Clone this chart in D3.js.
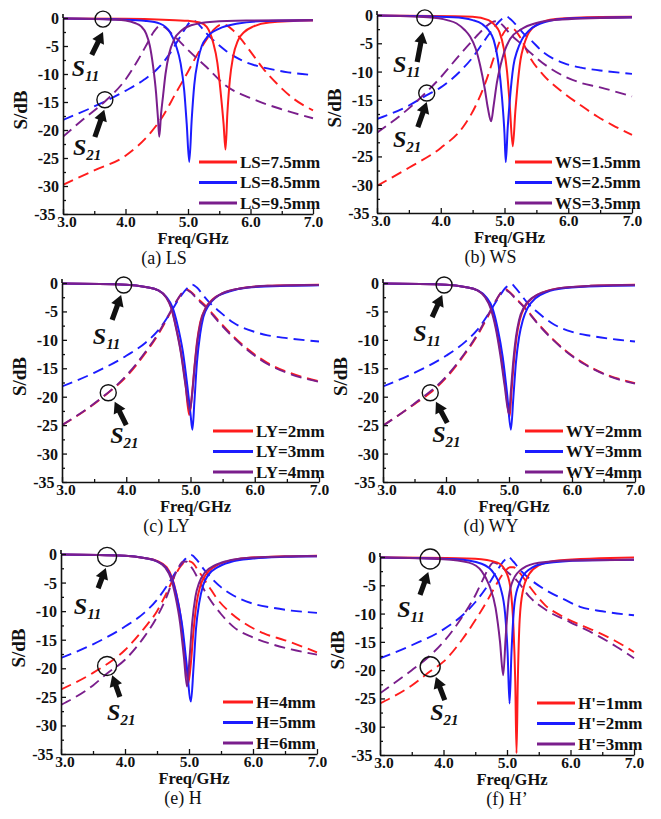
<!DOCTYPE html>
<html><head><meta charset="utf-8">
<script src="https://cdn.jsdelivr.net/npm/d3@7"></script>
<style>body{margin:0;background:#fff}svg{display:block}</style>
</head><body>
<svg id="chart" width="661" height="819"></svg>
<script>
// ---------- DATA ----------
const freqTicks = [3.0, 4.0, 5.0, 6.0, 7.0];
const freqMinorTicks = [3.5, 4.5, 5.5, 6.5];
const dbTicks = [0, -5, -10, -15, -20, -25, -30, -35];
const dbMinorTicks = [-2.5, -7.5, -12.5, -17.5, -22.5, -27.5, -32.5];
const captions = ["(a) LS", "(b) WS", "(c) LY", "(d) WY", "(e) H", "(f) H\u2019"];
const legendA = ["LS=7.5mm", "LS=8.5mm", "LS=9.5mm"];
const legendB = ["WS=1.5mm", "WS=2.5mm", "WS=3.5mm"];
const legendC = ["LY=2mm", "LY=3mm", "LY=4mm"];
const legendD = ["WY=2mm", "WY=3mm", "WY=4mm"];
const legendE = ["H=4mm", "H=5mm", "H=6mm"];
const legendF = ["H'=1mm", "H'=2mm", "H'=3mm"];

// S11 (solid) per panel: [red, blue, purple]; points are [GHz, dB]
const s11A = [
  [[3,-0.1],[4,-0.15],[4.6,-0.3],[5,-0.5],[5.19,-0.8],[5.3,-1.6],[5.4,-4.3],[5.47,-8],[5.52,-13],[5.57,-19],[5.6,-23.5],[5.63,-17],[5.67,-11],[5.72,-7],[5.8,-4],[5.9,-2.5],[6.05,-1.5],[6.3,-0.8],[7,-0.45]],
  [[3,-0.1],[4,-0.3],[4.3,-0.5],[4.55,-1],[4.71,-2.5],[4.81,-5],[4.88,-8],[4.94,-13],[4.98,-19],[5.02,-25.7],[5.06,-18],[5.1,-12],[5.16,-7.5],[5.22,-5],[5.3,-3.5],[5.5,-1.9],[5.8,-1],[6.2,-0.55],[7,-0.4]],
  [[3,-0.1],[3.8,-0.3],[4,-0.45],[4.15,-0.9],[4.25,-1.5],[4.33,-2.8],[4.39,-5],[4.44,-8.5],[4.49,-13.5],[4.52,-18],[4.54,-21.2],[4.57,-17],[4.6,-14],[4.64,-10],[4.7,-6.3],[4.78,-3.8],[4.9,-2.2],[5.05,-1.3],[5.4,-0.65],[6,-0.45],[7,-0.35]]
];
const s21A = [
  [[3,-29.8],[3.5,-27.2],[4,-24.6],[4.4,-20.5],[4.6,-17.5],[4.8,-13.5],[5,-9.6],[5.15,-6.5],[5.3,-3.8],[5.42,-2],[5.55,-1.1],[5.62,-1.3],[5.72,-2.2],[5.83,-3.5],[6,-6],[6.2,-9],[6.42,-11.7],[6.7,-14.5],[7,-16.5]],
  [[3,-18.2],[3.5,-15.8],[4,-13],[4.3,-11],[4.5,-9.2],[4.7,-6.5],[4.85,-3.8],[4.95,-2],[5.05,-0.6],[5.1,-0.5],[5.2,-1.5],[5.3,-2.8],[5.4,-3.9],[5.6,-5.8],[5.83,-7.4],[6,-8.2],[6.27,-9],[6.6,-9.7],[7,-10.2]],
  [[3,-21.2],[3.3,-18.3],[3.7,-14.6],[4,-11],[4.2,-7.5],[4.35,-4.5],[4.45,-2.5],[4.55,-1.4],[4.62,-1.6],[4.72,-2.6],[4.85,-4],[5,-5.7],[5.3,-8.8],[5.62,-12.2],[6,-14.3],[6.5,-16.3],[7,-17.9]]
];
const s11B = [
  [[3,-0.1],[4.5,-0.3],[4.75,-0.9],[4.85,-1.8],[4.92,-3],[4.99,-6],[5.04,-10],[5.08,-15.5],[5.13,-23.2],[5.17,-17],[5.2,-13],[5.25,-8],[5.3,-5.5],[5.36,-3.6],[5.5,-1.8],[5.8,-0.7],[6.5,-0.35],[7,-0.3]],
  [[3,-0.1],[4.2,-0.4],[4.5,-0.9],[4.65,-1.6],[4.75,-2.7],[4.83,-4.4],[4.91,-9],[4.96,-14.5],[5,-21],[5.02,-26],[5.05,-20],[5.08,-15.5],[5.14,-9],[5.2,-6.3],[5.27,-4.4],[5.4,-2.6],[5.65,-1.2],[6,-0.6],[7,-0.4]],
  [[3,-0.1],[3.8,-0.4],[4.1,-0.9],[4.25,-1.5],[4.38,-2.7],[4.46,-3.8],[4.55,-6],[4.62,-9],[4.69,-13],[4.74,-16.5],[4.79,-18.8],[4.83,-16],[4.88,-12],[4.94,-8.8],[5,-6.4],[5.09,-4.2],[5.25,-2.6],[5.5,-1.4],[5.9,-0.8],[7,-0.45]]
];
const s21B = [
  [[3,-30.2],[3.5,-27],[4,-23.5],[4.35,-19.8],[4.55,-16],[4.7,-12],[4.85,-7],[4.97,-3.5],[5.08,-2.2],[5.15,-2.5],[5.25,-4],[5.4,-7.5],[5.6,-10.5],[5.93,-13.8],[6.2,-16],[6.45,-17.9],[6.7,-19.5],[7,-21.2]],
  [[3,-18.4],[3.5,-16],[3.76,-14.3],[4,-12.8],[4.3,-10],[4.5,-7.5],[4.7,-4.3],[4.85,-2],[4.95,-0.8],[5.03,-0.3],[5.1,-0.8],[5.2,-2],[5.3,-3.3],[5.41,-4.4],[5.6,-6.5],[5.93,-8.5],[6.2,-9.3],[6.5,-9.8],[7,-10.4]],
  [[3,-20.8],[3.5,-16.5],[3.76,-13.8],[4,-11],[4.3,-7],[4.5,-4.5],[4.65,-2.7],[4.8,-1.3],[4.87,-1.1],[4.95,-1.6],[5.1,-3.5],[5.25,-5],[5.41,-6.7],[5.7,-9.3],[5.93,-10.8],[6.2,-12],[6.5,-12.8],[7,-14.4]]
];
const s11C = [
  [[3,-0.1],[4,-0.3],[4.3,-0.7],[4.5,-1.3],[4.62,-2.5],[4.7,-4.3],[4.78,-8],[4.85,-12],[4.92,-17.5],[4.98,-23.2],[5.02,-20],[5.06,-15],[5.1,-10.5],[5.15,-7],[5.23,-4.5],[5.35,-2.8],[5.5,-1.8],[5.75,-1],[6.2,-0.5],[7,-0.3]],
  [[3,-0.1],[4,-0.3],[4.3,-0.7],[4.5,-1.3],[4.62,-2.4],[4.72,-4.3],[4.8,-7.5],[4.88,-12],[4.95,-18],[5,-23],[5.03,-25.8],[5.06,-21],[5.1,-14],[5.15,-9],[5.2,-6],[5.28,-4],[5.4,-2.5],[5.6,-1.5],[5.9,-0.8],[6.5,-0.5],[7,-0.4]],
  [[3,-0.1],[4,-0.3],[4.3,-0.7],[4.5,-1.3],[4.62,-2.5],[4.7,-4.4],[4.78,-8.2],[4.85,-12.3],[4.92,-17.8],[4.99,-22.5],[5.03,-19],[5.07,-14],[5.11,-10],[5.16,-6.8],[5.24,-4.4],[5.36,-2.8],[5.5,-1.8],[5.75,-1],[6.2,-0.5],[7,-0.35]]
];
const s21C = [
  [[3,-25],[3.5,-21.3],[3.72,-19.3],[4,-16.5],[4.3,-12.3],[4.5,-9],[4.65,-6],[4.78,-3.3],[4.88,-1.6],[4.93,-1.1],[5,-1.5],[5.1,-2.6],[5.25,-4.2],[5.45,-6.8],[5.67,-9.4],[5.9,-11.7],[6.19,-14],[6.5,-15.6],[7,-17.3]],
  [[3,-18.2],[3.5,-15.8],[4,-12.8],[4.3,-10.5],[4.5,-8.3],[4.7,-5],[4.85,-2.3],[4.95,-0.9],[5.03,-0.3],[5.1,-0.8],[5.2,-2.2],[5.3,-3.5],[5.45,-5],[5.67,-7],[6,-8.6],[6.2,-9.2],[6.5,-9.7],[7,-10.3]],
  [[3,-25],[3.5,-21.2],[4,-16.3],[4.3,-12.1],[4.5,-8.8],[4.65,-5.8],[4.78,-3.2],[4.88,-1.6],[4.93,-1.2],[5,-1.6],[5.1,-2.8],[5.25,-4.4],[5.45,-7],[5.67,-9.6],[5.9,-11.9],[6.19,-14.2],[6.5,-15.8],[7,-17.4]]
];
const s11D = [
  [[3,-0.1],[4,-0.3],[4.3,-0.7],[4.5,-1.3],[4.63,-2.5],[4.72,-4.5],[4.8,-8],[4.87,-12.5],[4.94,-18],[5.01,-23.5],[5.04,-19],[5.08,-13.5],[5.12,-9.5],[5.17,-6.5],[5.25,-4.2],[5.38,-2.6],[5.55,-1.6],[5.8,-0.9],[6.3,-0.5],[7,-0.3]],
  [[3,-0.1],[4,-0.3],[4.3,-0.7],[4.5,-1.3],[4.64,-2.5],[4.74,-4.5],[4.82,-8],[4.9,-13],[4.97,-19.5],[5.03,-25.8],[5.07,-20],[5.11,-14],[5.16,-9.5],[5.22,-6.5],[5.3,-4.3],[5.42,-2.7],[5.6,-1.6],[5.9,-0.9],[6.4,-0.55],[7,-0.45]],
  [[3,-0.1],[4,-0.3],[4.3,-0.7],[4.5,-1.3],[4.62,-2.5],[4.71,-4.5],[4.79,-8],[4.86,-12.5],[4.93,-18],[5,-23],[5.03,-19],[5.07,-13.5],[5.11,-9.5],[5.16,-6.5],[5.24,-4.2],[5.37,-2.6],[5.55,-1.6],[5.8,-0.9],[6.3,-0.5],[7,-0.35]]
];
const s21D = [
  [[3,-25.1],[3.5,-21.3],[3.74,-19.4],[4,-16.7],[4.3,-12.5],[4.5,-9.2],[4.65,-6.2],[4.78,-3.4],[4.88,-1.6],[4.94,-1.1],[5,-1.5],[5.1,-2.6],[5.25,-4.3],[5.45,-7],[5.67,-9.6],[5.9,-11.9],[6.2,-14.2],[6.5,-15.9],[7,-17.6]],
  [[3,-18.2],[3.5,-15.8],[4,-12.8],[4.3,-10.4],[4.5,-8.2],[4.7,-5],[4.85,-2.3],[4.95,-0.8],[5.04,-0.2],[5.1,-0.8],[5.2,-2.2],[5.3,-3.6],[5.45,-5.1],[5.67,-7],[6,-8.6],[6.3,-9.3],[6.6,-9.8],[7,-10.3]],
  [[3,-25.1],[3.5,-21.2],[4,-16.5],[4.3,-12.3],[4.5,-9],[4.65,-6],[4.78,-3.3],[4.88,-1.6],[4.94,-1.2],[5,-1.6],[5.1,-2.7],[5.25,-4.4],[5.45,-7.1],[5.67,-9.7],[5.9,-12],[6.2,-14.3],[6.5,-16],[7,-17.7]]
];
const s11E = [
  [[3,-0.1],[4,-0.3],[4.3,-0.7],[4.5,-1.2],[4.65,-2.3],[4.73,-4],[4.8,-6.8],[4.87,-11],[4.93,-17],[4.99,-22.6],[5.03,-19],[5.07,-13.5],[5.12,-8.5],[5.18,-5.5],[5.27,-3.5],[5.4,-2.2],[5.6,-1.3],[5.9,-0.7],[6.5,-0.4],[7,-0.3]],
  [[3,-0.1],[4,-0.3],[4.3,-0.7],[4.5,-1.3],[4.64,-2.4],[4.74,-4.5],[4.82,-8],[4.9,-13],[4.96,-19],[5.03,-25.8],[5.07,-20],[5.11,-13],[5.16,-8.5],[5.22,-5.5],[5.3,-3.7],[5.45,-2.3],[5.65,-1.4],[6,-0.8],[6.5,-0.5],[7,-0.4]],
  [[3,-0.1],[4,-0.3],[4.3,-0.7],[4.5,-1.3],[4.63,-2.4],[4.72,-4.3],[4.79,-7.5],[4.86,-12],[4.92,-18],[4.97,-23.2],[5.01,-18],[5.05,-12],[5.1,-7.5],[5.16,-5],[5.25,-3.2],[5.4,-2],[5.6,-1.2],[5.9,-0.7],[6.5,-0.45],[7,-0.4]]
];
const s21E = [
  [[3,-23.7],[3.5,-20.8],[4,-16.8],[4.3,-13],[4.5,-10],[4.65,-6.8],[4.78,-3.8],[4.88,-2],[4.97,-1.2],[5.05,-1.5],[5.15,-3],[5.3,-5.5],[5.45,-8],[5.6,-9.8],[5.85,-12],[6.17,-13.9],[6.5,-15.1],[7,-17.2]],
  [[3,-18.2],[3.5,-15.8],[4,-12.7],[4.3,-10.3],[4.5,-8],[4.7,-4.8],[4.85,-2.2],[4.95,-0.8],[5.04,-0.2],[5.12,-1],[5.22,-2.5],[5.35,-4.2],[5.5,-5.8],[5.7,-7.3],[6,-8.7],[6.3,-9.4],[6.6,-9.9],[7,-10.3]],
  [[3,-26.4],[3.5,-23],[3.71,-21],[4,-18.5],[4.3,-14.5],[4.5,-11],[4.65,-7.5],[4.75,-4.5],[4.83,-2.5],[4.9,-1.4],[4.95,-1.3],[5.05,-2.5],[5.15,-4.5],[5.3,-7.5],[5.5,-10.5],[5.7,-12.8],[6,-14.6],[6.3,-15.8],[6.6,-16.7],[7,-17.6]]
];
const s11F = [
  [[3,-0.05],[4.5,-0.3],[4.85,-1],[5,-3],[5.06,-6],[5.1,-12],[5.13,-22],[5.15,-34.7],[5.17,-22],[5.2,-11],[5.25,-6],[5.35,-3],[5.5,-1.5],[5.8,-0.6],[7,-0.1]],
  [[3,-0.1],[4.2,-0.4],[4.6,-1.2],[4.8,-3],[4.9,-5.5],[4.97,-10],[5.01,-17],[5.04,-25.9],[5.07,-17],[5.12,-8],[5.2,-4.5],[5.35,-2.2],[5.6,-1.1],[6.2,-0.6],[7,-0.5]],
  [[3,-0.1],[4,-0.4],[4.4,-1],[4.6,-2.5],[4.72,-5],[4.82,-9],[4.89,-15],[4.94,-20.9],[4.98,-14],[5.03,-7],[5.1,-4],[5.25,-2],[5.5,-1],[6,-0.6],[7,-0.5]]
];
const s21F = [
  [[3,-25.9],[3.5,-22.7],[3.79,-20.2],[4,-18.5],[4.3,-14.5],[4.5,-11.2],[4.7,-7.5],[4.85,-4.5],[4.95,-2.8],[5.05,-1.8],[5.1,-1.8],[5.2,-2.8],[5.36,-5.3],[5.6,-8.5],[5.89,-10.6],[6.2,-12.2],[6.41,-13.2],[6.7,-14.8],[7,-16.8]],
  [[3,-17.9],[3.5,-15.6],[4,-12.8],[4.3,-10.3],[4.5,-8],[4.7,-5],[4.85,-2.3],[4.95,-0.7],[5.02,0],[5.1,-0.8],[5.2,-2.2],[5.35,-3.8],[5.62,-5.9],[5.9,-7.5],[6.15,-8.8],[6.5,-9.6],[7,-10.3]],
  [[3,-24.1],[3.5,-20],[3.75,-17.8],[4,-15],[4.3,-10.5],[4.5,-6.8],[4.62,-4],[4.72,-1.8],[4.78,-1],[4.85,-1.2],[5,-2.6],[5.15,-4.1],[5.36,-7.1],[5.62,-9.4],[5.99,-11.5],[6.41,-13.8],[6.73,-15.9],[7,-17.9]]
];

// ---------- LAYOUT ----------
const colors = ["#ff1c1c", "#1c1cff", "#7a1e8c"];
const panels = [
  {x0:63,x1:313,y0:18,y1:214, s11:s11A, s21:s21A, legend:legendA, cap:captions[0], capDx:-24, lg:{x:199,y:162,len:38},
   ann:{c11:[3.64,-0.2],r:8,a11:[[3.46,-6.6],[3.64,-2.5]],l11:[3.14,-10.4],c21:[3.67,-14.6],a21:[[3.51,-21.25],[3.66,-16.4]],l21:[3.16,-24.5]}},
  {x0:377,x1:632,y0:15,y1:213, s11:s11B, s21:s21B, legend:legendB, cap:captions[1], capDx:-14, lg:{x:515,y:162,len:37},
   ann:{c11:[3.75,-0.5],r:8,a11:[[3.63,-8.3],[3.72,-3.0]],l11:[3.25,-10.1],c21:[3.78,-13.8],a21:[[3.64,-19.8],[3.78,-15.4]],l21:[3.25,-23.3]}},
  {x0:62,x1:319,y0:283,y1:482, s11:s11C, s21:s21C, legend:legendC, cap:captions[2], capDx:-24, lg:{x:213,y:431,len:40},
   ann:{c11:[3.96,-0.35],r:8,a11:[[3.78,-6.5],[3.92,-2.1]],l11:[3.48,-10.7],c21:[3.72,-19.3],a21:[[4.0,-25],[3.82,-20.9]],l21:[3.75,-28.1]}},
  {x0:383,x1:635,y0:283,y1:482, s11:s11D, s21:s21D, legend:legendD, cap:captions[3], capDx:-18, lg:{x:525,y:431,len:38},
   ann:{c11:[3.97,-0.35],r:8,a11:[[3.78,-6.0],[3.94,-2.1]],l11:[3.48,-10.2],c21:[3.75,-19.3],a21:[[4.02,-24.6],[3.84,-20.9]],l21:[3.78,-28.0]}},
  {x0:61,x1:317,y0:554,y1:754, s11:s11E, s21:s21E, legend:legendE, cap:captions[4], capDx:-6, lg:{x:223,y:702,len:30},
   ann:{c11:[3.72,-0.5],r:9.5,a11:[[3.58,-6.0],[3.70,-2.45]],l11:[3.2,-10.5],c21:[3.72,-19.6],a21:[[3.92,-25.0],[3.8,-21.2]],l21:[3.72,-29.1]}},
  {x0:380,x1:634,y0:557,y1:755, s11:s11F, s21:s21F, legend:legendF, cap:captions[5], capDx:0, lg:{x:537,y:703,len:38},
   ann:{c11:[3.79,-0.35],r:10,a11:[[3.63,-6.7],[3.76,-2.65]],l11:[3.27,-10.6],c21:[3.79,-19.4],a21:[[4.02,-25.3],[3.88,-21.2]],l21:[3.79,-28.8]}}
];

const svg = d3.select("#chart");
const serif = "'Liberation Serif','Times New Roman',serif";

function arrowPath(tail, tip) {
  const dx = tip[0]-tail[0], dy = tip[1]-tail[1];
  const L = Math.hypot(dx, dy), ux = dx/L, uy = dy/L, px = -uy, py = ux;
  const hl = 11, hw = 6.5, sw = 2.6;
  const bx = tip[0]-ux*hl, by = tip[1]-uy*hl;
  const pts = [
    [tail[0]+px*sw, tail[1]+py*sw], [bx+px*sw, by+py*sw], [bx+px*hw, by+py*hw], tip,
    [bx-px*hw, by-py*hw], [bx-px*sw, by-py*sw], [tail[0]-px*sw, tail[1]-py*sw]
  ];
  return "M" + pts.map(p => p.join(",")).join("L") + "Z";
}

panels.forEach((p, i) => {
  const x = d3.scaleLinear().domain([3, 7]).range([p.x0, p.x1]);
  const y = d3.scaleLinear().domain([0, -35]).range([p.y0, p.y1]);
  const g = svg.append("g");
  const clipId = "clip" + i;
  svg.append("clipPath").attr("id", clipId).append("rect")
    .attr("x", p.x0).attr("y", p.y0 - 6).attr("width", p.x1 - p.x0 + 2).attr("height", p.y1 - p.y0 + 6);

  const line = d3.line().x(d => x(d[0])).y(d => y(d[1])).curve(d3.curveMonotoneX);
  const plot = g.append("g").attr("clip-path", `url(#${clipId})`);
  p.s21.forEach((s, k) => plot.append("path").attr("d", line(s)).attr("fill", "none")
    .attr("stroke", colors[k]).attr("stroke-width", 1.9).attr("stroke-dasharray", "11,6"));
  p.s11.forEach((s, k) => plot.append("path").attr("d", line(s)).attr("fill", "none")
    .attr("stroke", colors[k]).attr("stroke-width", 2));

  // axes
  const xAxis = g.append("g").attr("transform", `translate(0,${p.y1})`)
    .call(d3.axisBottom(x).tickValues(freqTicks).tickSizeInner(-5).tickSizeOuter(0).tickFormat(d3.format(".1f")));
  g.append("g").attr("transform", `translate(0,${p.y1})`)
    .call(d3.axisBottom(x).tickValues(freqMinorTicks).tickSizeInner(-3).tickSizeOuter(0).tickFormat(""))
    .call(a => a.select(".domain").remove());
  const yAxis = g.append("g").attr("transform", `translate(${p.x0},0)`)
    .call(d3.axisLeft(y).tickValues(dbTicks).tickSizeInner(-5).tickSizeOuter(0).tickFormat(d => d === 0 ? "0" : String(d)));
  g.append("g").attr("transform", `translate(${p.x0},0)`)
    .call(d3.axisLeft(y).tickValues(dbMinorTicks).tickSizeInner(-3).tickSizeOuter(0).tickFormat(""))
    .call(a => a.select(".domain").remove());
  g.selectAll(".domain").attr("stroke", "#111").attr("stroke-width", 1.6);
  g.selectAll(".tick line").attr("stroke", "#111").attr("stroke-width", 1.3);
  xAxis.selectAll(".tick text").attr("font-family", serif).attr("font-weight", "bold")
    .attr("font-size", 15.5).attr("fill", "#111").attr("dy", null).attr("y", 12.5)
    .attr("x", d => d === freqTicks[0] ? 3.5 : 0);
  yAxis.selectAll(".tick text").attr("font-family", serif).attr("font-weight", "bold")
    .attr("font-size", 16).attr("fill", "#111").attr("dy", "0.34em")
    .attr("x", d => d === dbTicks[dbTicks.length - 1] ? -7.5 : -4);
  g.append("line").attr("x1", p.x0).attr("x2", p.x0).attr("y1", p.y0 - 4).attr("y2", p.y0)
    .attr("stroke", "#111").attr("stroke-width", 1.6);

  // axis titles
  g.append("text").attr("x", (p.x0 + p.x1) / 2 + 5).attr("y", p.y1 + 30).attr("text-anchor", "middle")
    .attr("font-family", serif).attr("font-weight", "bold").attr("font-size", 16.5).attr("fill", "#111").text("Freq/GHz");
  g.append("text").attr("transform", `translate(${p.x0 - 36},${(p.y0 + p.y1) / 2 - 6}) rotate(-90)`)
    .attr("text-anchor", "middle").attr("font-family", serif).attr("font-weight", "bold")
    .attr("font-size", 19).attr("fill", "#111").text("S/dB");
  // caption
  g.append("text").attr("x", (p.x0 + p.x1) / 2 + p.capDx).attr("y", p.y1 + 49.5).attr("text-anchor", "middle")
    .attr("font-family", serif).attr("font-size", 18).attr("fill", "#111").text(p.cap);

  // legend
  p.legend.forEach((t, k) => {
    const ly = p.lg.y + k * 20.5;
    g.append("line").attr("x1", p.lg.x).attr("x2", p.lg.x + p.lg.len).attr("y1", ly).attr("y2", ly)
      .attr("stroke", colors[k]).attr("stroke-width", 3);
    g.append("text").attr("x", p.lg.x + p.lg.len + 3).attr("y", ly).attr("dy", "0.35em")
      .attr("font-family", serif).attr("font-weight", "bold").attr("font-size", 17).attr("fill", "#111").text(t);
  });

  // annotations
  const a = p.ann;
  [a.c11, a.c21].forEach(c => g.append("circle").attr("cx", x(c[0])).attr("cy", y(c[1])).attr("r", a.r)
    .attr("fill", "none").attr("stroke", "#111").attr("stroke-width", 1.4));
  [a.a11, a.a21].forEach(ar => g.append("path")
    .attr("d", arrowPath([x(ar[0][0]), y(ar[0][1])], [x(ar[1][0]), y(ar[1][1])])).attr("fill", "#111"));
  [[a.l11, "11"], [a.l21, "21"]].forEach(([pos, sub]) => {
    const t = g.append("text").attr("x", x(pos[0])).attr("y", y(pos[1]))
      .attr("font-family", serif).attr("font-weight", "bold").attr("font-style", "italic").attr("fill", "#111");
    t.append("tspan").attr("font-size", 24).text("S");
    t.append("tspan").attr("font-size", 15).attr("dy", 5).text(sub);
  });
});
</script>
</body></html>
